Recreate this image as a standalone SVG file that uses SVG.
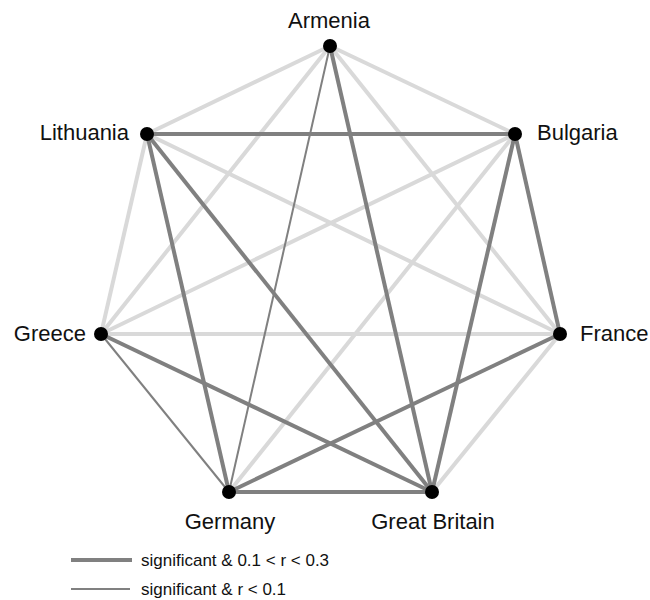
<svg xmlns="http://www.w3.org/2000/svg" width="650" height="600" viewBox="0 0 650 600">
<style>
.ns{stroke:#d9d9d9;stroke-width:4;fill:none}
.s1{stroke:#808080;stroke-width:4;fill:none}
.s2{stroke:#808080;stroke-width:2;fill:none}
.dot{fill:#000}
.lbl{font-family:"Liberation Sans",Arial,sans-serif;font-size:22px;fill:#111}
.leg{font-family:"Liberation Sans",Arial,sans-serif;font-size:17px;fill:#111}
</style>
<rect width="650" height="600" fill="#fff"/>
<g id="connectors">
<line class="ns" x1="330" y1="46" x2="515" y2="134"/>
<line class="ns" x1="330" y1="46" x2="147" y2="134"/>
<line class="ns" x1="330" y1="46" x2="101" y2="334"/>
<line class="ns" x1="330" y1="46" x2="560" y2="334"/>
<line class="ns" x1="147" y1="134" x2="560" y2="334"/>
<line class="ns" x1="147" y1="134" x2="101" y2="334"/>
<line class="ns" x1="515" y1="134" x2="101" y2="334"/>
<line class="ns" x1="515" y1="134" x2="229" y2="492"/>
<line class="ns" x1="560" y1="334" x2="101" y2="334"/>
<line class="ns" x1="560" y1="334" x2="432" y2="492"/>
<line class="s2" x1="330" y1="46" x2="229" y2="492"/>
<line class="s2" x1="101" y1="334" x2="229" y2="492"/>
<line class="s1" x1="330" y1="46" x2="432" y2="492"/>
<line class="s1" x1="147" y1="134" x2="515" y2="134"/>
<line class="s1" x1="147" y1="134" x2="432" y2="492"/>
<line class="s1" x1="147" y1="134" x2="229" y2="492"/>
<line class="s1" x1="515" y1="134" x2="560" y2="334"/>
<line class="s1" x1="515" y1="134" x2="432" y2="492"/>
<line class="s1" x1="560" y1="334" x2="229" y2="492"/>
<line class="s1" x1="101" y1="334" x2="432" y2="492"/>
<line class="s1" x1="229" y1="492" x2="432" y2="492"/>
</g>
<g id="armenia"><circle class="dot" cx="330" cy="46" r="7"/><text class="lbl" x="329" y="28" text-anchor="middle">Armenia</text></g>
<g id="bulgaria"><circle class="dot" cx="515" cy="134" r="7"/><text class="lbl" x="537" y="140">Bulgaria</text></g>
<g id="france"><circle class="dot" cx="560" cy="334" r="7"/><text class="lbl" x="580" y="341">France</text></g>
<g id="greatbritain"><circle class="dot" cx="432" cy="492" r="7"/><text class="lbl" x="433" y="529" text-anchor="middle">Great Britain</text></g>
<g id="germany"><circle class="dot" cx="229" cy="492" r="7"/><text class="lbl" x="230" y="529" text-anchor="middle">Germany</text></g>
<g id="greece"><circle class="dot" cx="101" cy="334" r="7"/><text class="lbl" x="86" y="341" text-anchor="end">Greece</text></g>
<g id="lithuania"><circle class="dot" cx="147" cy="134" r="7"/><text class="lbl" x="129" y="140" text-anchor="end">Lithuania</text></g>
<g id="legend">
<line class="s1" x1="71" y1="560" x2="132" y2="560"/>
<text class="leg" x="141" y="566">significant &amp; 0.1 &lt; r &lt; 0.3</text>
<line class="s2" x1="71" y1="589" x2="130" y2="589"/>
<text class="leg" x="141" y="595">significant &amp; r &lt; 0.1</text>
</g>
</svg>
